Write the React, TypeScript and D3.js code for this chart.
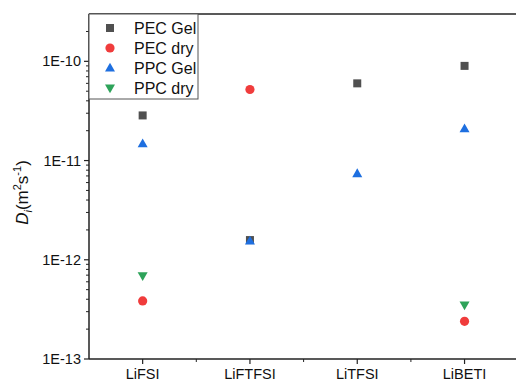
import React from "react";
import * as d3 from "d3";

const categories = ["LiFSI", "LiFTFSI", "LiTFSI", "LiBETI"];
const pecGel: (number | null)[] = [2.85e-11, 1.58e-12, 6.0e-11, 9.0e-11];
const pecDry: (number | null)[] = [3.85e-13, 5.2e-11, null, 2.4e-13];
const ppcGel: (number | null)[] = [1.48e-11, 1.55e-12, 7.4e-12, 2.1e-11];
const ppcDry: (number | null)[] = [6.9e-13, null, null, 3.5e-13];
const yTickLabels = ["1E-13", "1E-12", "1E-11", "1E-10"];
const yTickValues = [1e-13, 1e-12, 1e-11, 1e-10];

const series = [
  { name: "PEC Gel", values: pecGel, color: "#505050", shape: "square" },
  { name: "PEC dry", values: pecDry, color: "#f03c3c", shape: "circle" },
  { name: "PPC Gel", values: ppcGel, color: "#1e6fe0", shape: "up" },
  { name: "PPC dry", values: ppcDry, color: "#2ea35a", shape: "down" },
];

const W = 516, H = 385;
const left = 89, top = 14, bottom = 359;

function Marker({ shape, x, y, color }: { shape: string; x: number; y: number; color: string }) {
  if (shape === "square") return <rect x={x - 4} y={y - 4} width={8} height={8} fill={color} />;
  if (shape === "circle") return <circle cx={x} cy={y} r={4.6} fill={color} />;
  if (shape === "up") return <path d={`M${x},${y - 5.2}L${x + 5},${y + 3.6}L${x - 5},${y + 3.6}Z`} fill={color} />;
  return <path d={`M${x},${y + 5.2}L${x + 5},${y - 3.6}L${x - 5},${y - 3.6}Z`} fill={color} />;
}

export default function App() {
  const y = d3.scaleLog().domain([1e-13, 3e-10]).range([bottom, top]);
  const step = 107.3;
  const x = (i: number) => left + step * (i + 0.5);
  const minor: number[] = [];
  for (let e = -13; e <= -10; e++) for (let m = 2; m <= 9; m++) {
    const v = m * Math.pow(10, e);
    if (v < 3e-10) minor.push(v);
  }
  const font = "Arial, 'Liberation Sans', sans-serif";
  return (
    <svg width={W} height={H} style={{ position: "absolute", left: 0, top: 0 }} fontFamily={font}>
      <rect width={W} height={H} fill="white" />
      {/* frame */}
      <line x1={left} y1={top} x2={W} y2={top} stroke="#222" strokeWidth={1.5} />
      <line x1={left} y1={top} x2={left} y2={bottom} stroke="#222" strokeWidth={1.5} />
      <line x1={left} y1={bottom} x2={W} y2={bottom} stroke="#222" strokeWidth={1.5} />
      {/* y ticks */}
      {yTickValues.map((v, i) => (
        <g key={i}>
          <line x1={left - 5} x2={left} y1={y(v)} y2={y(v)} stroke="#222" strokeWidth={1.2} />
          <text x={left - 8} y={y(v)} dy="0.35em" textAnchor="end" fontSize={14.5} fill="#111">{yTickLabels[i]}</text>
        </g>
      ))}
      {minor.map((v, i) => (
        <line key={i} x1={left - 3} x2={left} y1={y(v)} y2={y(v)} stroke="#222" strokeWidth={1} />
      ))}
      {/* x ticks */}
      {categories.map((c, i) => (
        <g key={c}>
          <line x1={x(i)} x2={x(i)} y1={bottom} y2={bottom + 5} stroke="#222" strokeWidth={1.2} />
          <text x={x(i)} y={bottom + 20} textAnchor="middle" fontSize={14.5} fill="#111">{c}</text>
          {i < categories.length - 1 && (
            <line x1={x(i) + step / 2} x2={x(i) + step / 2} y1={bottom} y2={bottom + 3} stroke="#222" strokeWidth={1} />
          )}
        </g>
      ))}
      {/* y label */}
      <text transform={`translate(28,${(top + bottom) / 2 + 6}) rotate(-90)`} textAnchor="middle" fontSize={17} fill="#111">
        <tspan fontStyle="italic">D</tspan>
        <tspan fontStyle="italic" fontSize={11} dy={4}>i</tspan>
        <tspan dy={-4}>(m</tspan>
        <tspan fontSize={11} dy={-7}>2</tspan>
        <tspan dy={7}>s</tspan>
        <tspan fontSize={11} dy={-7}>-1</tspan>
        <tspan dy={7}>)</tspan>
      </text>
      {/* data */}
      {series.map((s) =>
        s.values.map((v, i) =>
          v == null ? null : <Marker key={s.name + i} shape={s.shape} x={x(i)} y={y(v)} color={s.color} />
        )
      )}
      {/* legend */}
      <rect x={left} y={top} width={109} height={85} fill="white" stroke="#555" strokeWidth={1} />
      {series.map((s, i) => (
        <g key={s.name}>
          <Marker shape={s.shape} x={110} y={28 + i * 20} color={s.color} />
          <text x={134} y={28 + i * 20} dy="0.35em" fontSize={16} fill="#111">{s.name}</text>
        </g>
      ))}
    </svg>
  );
}
